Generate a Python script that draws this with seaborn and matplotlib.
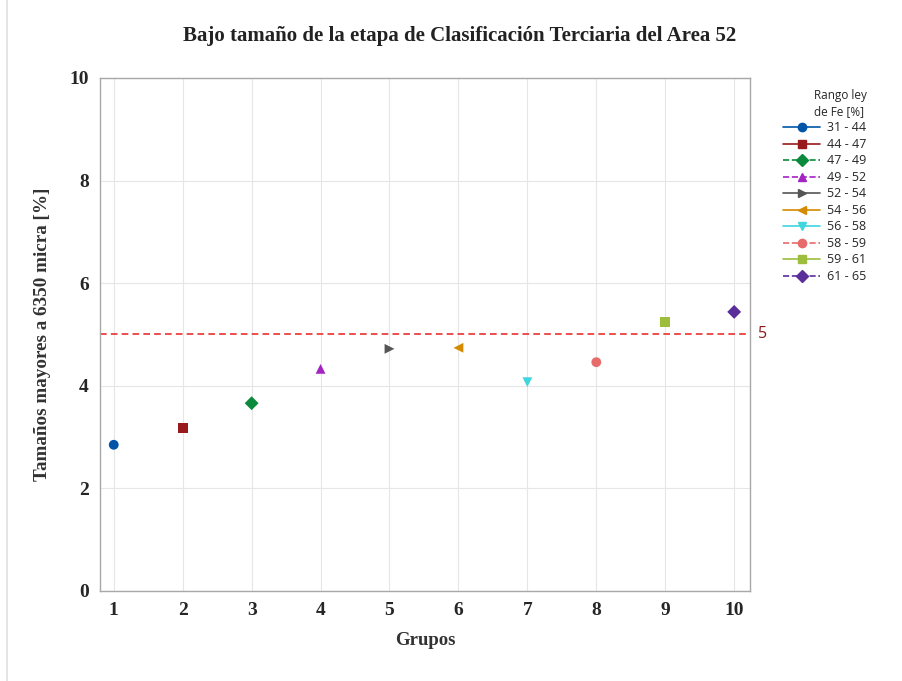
import matplotlib
matplotlib.use('Agg')
import matplotlib.pyplot as plt
import seaborn as sns
import pandas as pd
from matplotlib.lines import Line2D

# datos
grupos = [1, 2, 3, 4, 5, 6, 7, 8, 9, 10]
valores = [2.85, 3.18, 3.66, 4.33, 4.72, 4.74, 4.07, 4.46, 5.24, 5.44]
rangos = ['31 - 44', '44 - 47', '47 - 49', '49 - 52', '52 - 54',
          '54 - 56', '56 - 58', '58 - 59', '59 - 61', '61 - 65']
limite = 5

colores = ['#0055A8', '#981A1C', '#0B8A3B', '#A323C3', '#555555',
           '#D68A00', '#3FD6DE', '#E86B6B', '#9DBD3C', '#5A2D9A']
marcadores = ['o', 's', 'D', '^', '>', '<', 'v', 'o', 's', 'D']
lineas = ['-', '-', '--', '--', '-', '-', '-', '--', '-', '--']

df = pd.DataFrame({'grupo': grupos, 'valor': valores, 'rango': rangos})

sns.set_style('white')
plt.rcParams['font.family'] = ['Liberation Serif', 'DejaVu Serif']

fig = plt.figure(figsize=(9.03, 6.81), dpi=100)
ax = fig.add_axes([0.1107, 0.1322, 0.7199, 0.7533])

sns.scatterplot(data=df, x='grupo', y='valor', hue='rango', style='rango',
                palette=dict(zip(rangos, colores)),
                markers=dict(zip(rangos, marcadores)),
                s=50, edgecolor='none', legend=False, ax=ax, zorder=3)

ax.axhline(limite, color='#E8302E', ls=(0, (4, 2.5)), lw=1.2, zorder=2)
ax.text(10.34, limite, str(limite), color='#8B1A1A', fontsize=11.5,
        family='Open Sans', va='center', ha='left')

ax.set_xlim(0.8, 10.23)
ax.set_ylim(0, 10)
ax.set_xticks(grupos)
ax.set_yticks([0, 2, 4, 6, 8, 10])
ax.grid(True, color='#E6E6E6', lw=0.8)
ax.set_axisbelow(True)
for s in ax.spines.values():
    s.set_color('#A8A8A8')
    s.set_linewidth(1)
ax.tick_params(axis='both', length=4, width=0.8, color='#A8A8A8',
               labelsize=14, pad=4)
for lab in ax.get_xticklabels() + ax.get_yticklabels():
    lab.set_fontweight('bold')

ax.set_xlabel('Grupos', fontsize=13.5, fontweight='bold', color='#333333', labelpad=9)
ax.set_ylabel('Tamaños mayores a 6350 micra [%]', fontsize=13.8,
              fontweight='bold', color='#333333', labelpad=13)

fig.text(0.509, 0.947, 'Bajo tamaño de la etapa de Clasificación Terciaria del Area 52',
         ha='center', va='center', fontsize=15, fontweight='bold', color='#222222')

handles = [Line2D([0], [0], color=c, marker=m, ls=l, lw=1.2, markersize=6)
           for c, m, l in zip(colores, marcadores, lineas)]
leg = fig.legend(handles, rangos, title='Rango ley\nde Fe [%]',
                 loc='upper left', bbox_to_anchor=(0.8615, 0.876),
                 frameon=False, prop={'family': 'Open Sans', 'size': 9},
                 handlelength=3.0, labelspacing=0.28, handletextpad=0.55,
                 borderaxespad=0)
leg.get_title().set_fontfamily('Open Sans')
leg.get_title().set_fontsize(8.5)
leg.get_title().set_linespacing(1.25)
leg._legend_box.align = 'right'

fig.add_artist(Line2D([0.008, 0.008], [0.0, 1.0], color='#E0E0E0', lw=1.2,
                      transform=fig.transFigure))

fig.savefig('out.png', dpi=100)
